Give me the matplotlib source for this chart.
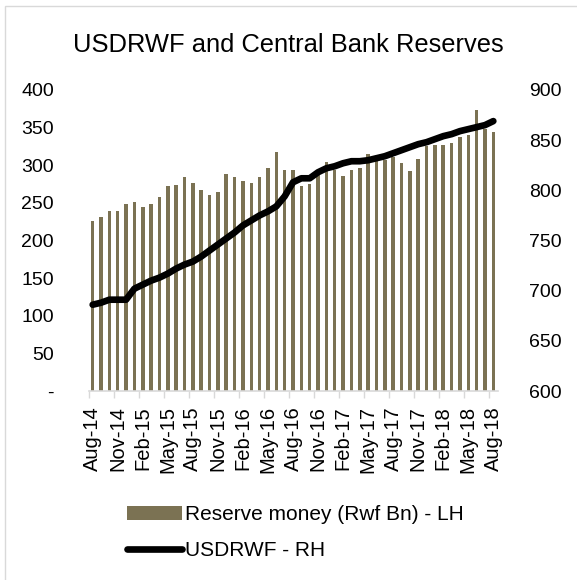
import numpy as np
import pandas as pd
import matplotlib
matplotlib.use('Agg')
import matplotlib.pyplot as plt
from matplotlib.patches import Rectangle
from matplotlib.ticker import FixedLocator, FuncFormatter

plt.rcParams['font.family'] = ['Liberation Sans', 'DejaVu Sans']

# 月度数据：2014年8月至2018年8月
months = pd.date_range('2014-08-01', '2018-08-01', freq='MS')
reserve_money = [226, 231, 239, 239, 248, 251, 244, 248, 258, 272,
                 274, 284, 276, 267, 260, 265, 288, 284, 279, 277,
                 284, 296, 317, 294, 294, 272, 275, 287, 304, 294,
                 286, 294, 297, 315, 305, 307, 311, 303, 293, 308,
                 325, 327, 327, 329, 337, 340, 373, 348, 344]
usdrwf = [686, 688, 691, 691, 691, 702, 706, 710, 713, 717,
          722, 726, 729, 734, 740, 746, 752, 758, 765, 770,
          775, 779, 784, 794, 808, 812, 812, 818, 822, 824,
          827, 829, 829, 830, 832, 834, 837, 840, 843, 846,
          848, 851, 854, 856, 859, 861, 863, 865, 869]
left_ticks = [0, 50, 100, 150, 200, 250, 300, 350, 400]
right_ticks = [600, 650, 700, 750, 800, 850, 900]

bar_color = '#7B7253'
grid_gray = '#D9D9D9'
fs = 14

fig = plt.figure(figsize=(5.77, 5.80), dpi=100)
ax = fig.add_axes([88.5 / 577, 1 - 391 / 580, 409 / 577, 301 / 580])
ax2 = ax.twinx()

x = np.arange(len(months))
bars = ax.bar(x, reserve_money, width=0.42, color=bar_color, zorder=2,
              label='Reserve money (Rwf Bn) - LH')
line, = ax2.plot(x, usdrwf, color='black', lw=4.8, solid_capstyle='round',
                 solid_joinstyle='round', zorder=3, label='USDRWF - RH')

ax.set_xlim(-0.5, len(months) - 0.5)
ax.set_ylim(0, 400)
ax2.set_ylim(600, 900)
ax.set_yticks(left_ticks)
ax.yaxis.set_major_formatter(FuncFormatter(lambda v, p: '-' if v == 0 else f'{v:.0f}'))
ax2.set_yticks(right_ticks)

# 类别标签每三个月一个，刻度线画在类别边界
label_pos = x[::3]
ax.xaxis.set_major_locator(FixedLocator(label_pos))
ax.set_xticklabels([m.strftime('%b-%y') for m in months[::3]], rotation=90)
ax.xaxis.set_minor_locator(FixedLocator(label_pos - 0.5))
ax.tick_params(axis='x', which='major', length=0, pad=11, labelsize=fs + 0.5)
ax.tick_params(axis='x', which='minor', length=5, color=grid_gray, width=1)
ax.tick_params(axis='y', length=0, pad=25, labelsize=fs)
ax2.tick_params(axis='y', length=0, pad=23, labelsize=fs)

for a in (ax, ax2):
    for s in ('top', 'left', 'right'):
        a.spines[s].set_visible(False)
ax2.spines['bottom'].set_visible(False)
ax.spines['bottom'].set_color(grid_gray)
ax.spines['bottom'].set_linewidth(1.2)

fig.text(288 / 577, 1 - 45 / 580, 'USDRWF and Central Bank Reserves',
         ha='center', va='center', fontsize=18.4)

fig.legend(handles=[bars, line], loc='upper left',
           bbox_to_anchor=(117 / 577, 1 - 495 / 580), frameon=False,
           fontsize=15, handlelength=2.6, handletextpad=0.15,
           labelspacing=0.8, borderpad=0)

# 图表外框
fig.add_artist(Rectangle((5 / 577, -0.1), 2, 1 - 6 / 580 + 0.1,
                         transform=fig.transFigure, fill=False,
                         edgecolor=grid_gray, lw=1))

fig.savefig('out.png', dpi=100)
